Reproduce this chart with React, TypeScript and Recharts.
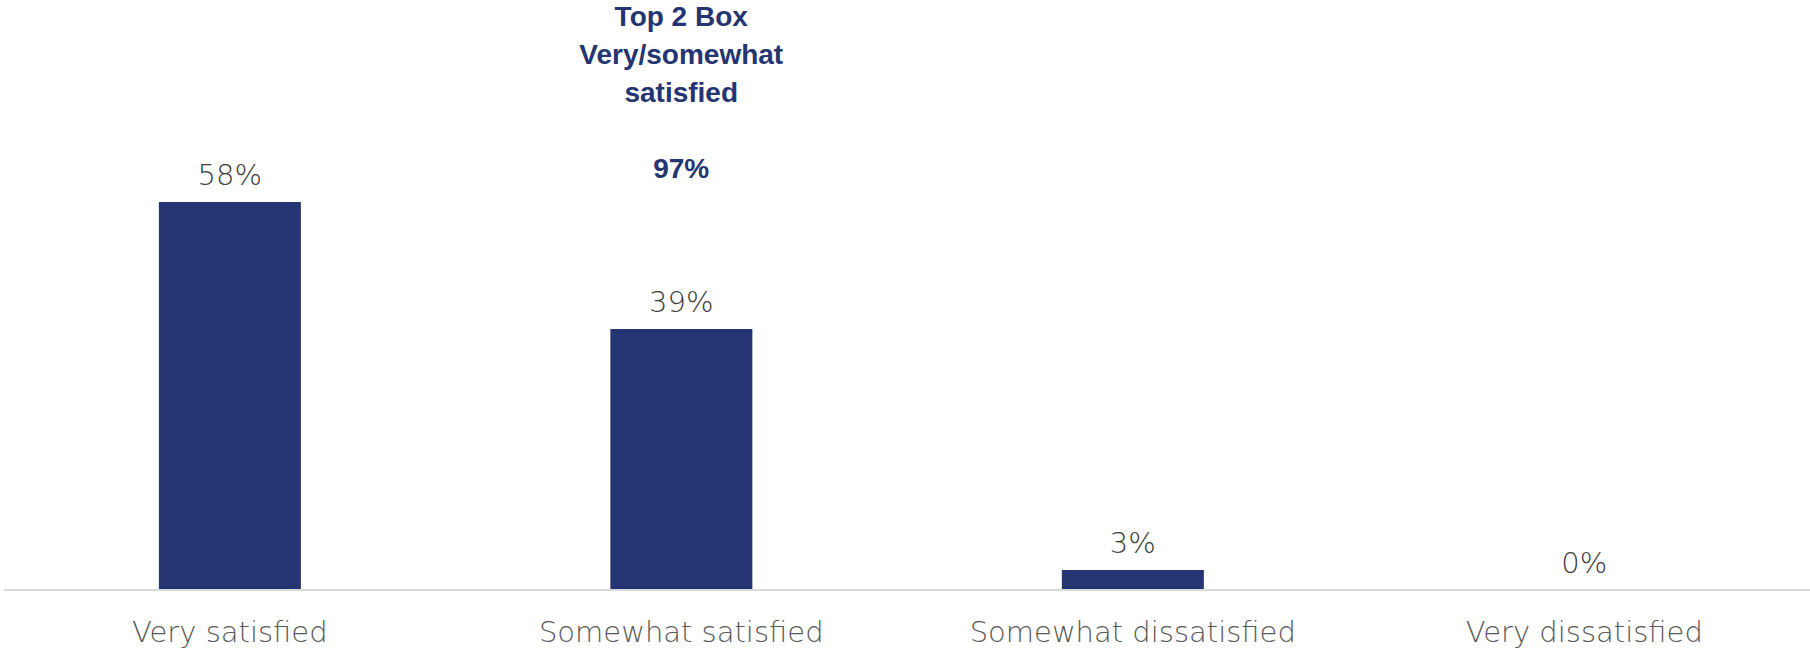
import { ComposedChart, Bar, Line, XAxis, YAxis, LabelList } from 'recharts'

const categories = ['Very satisfied', 'Somewhat satisfied', 'Somewhat dissatisfied', 'Very dissatisfied']
const shares = [58, 39, 3, 0]
const top2Lines = ['Top 2 Box', 'Very/somewhat', 'satisfied']

const data = categories.map((name, i) => ({ name, value: shares[i] }))
const top2Total = shares[0] + shares[1]

const NAVY = '#253571'
const LABEL_FONT = '"DejaVu Sans", sans-serif'

// labels hang off an invisible line so the 0% bar still gets one
const ValueLabel = (props: any) => {
  const { x, y, value, index } = props
  const cx = Number(x)
  return (
    <g>
      <text
        x={cx}
        y={Number(y) - 17}
        textAnchor="middle"
        fill="#404040"
        fontSize={29}
        fontFamily={LABEL_FONT}
        fontWeight={300}
      >
        {`${value}%`}
      </text>
      {/* Top 2 box call-out sits above the second bar */}
      {index === 1 && (
        <g fill={NAVY} fontFamily='"Liberation Sans", Arial, sans-serif' fontWeight="bold" fontSize={28} textAnchor="middle">
          {top2Lines.map((line, i) => (
            <text key={line} x={cx} y={26 + i * 38}>{line}</text>
          ))}
          <text x={cx} y={178}>{`${top2Total}%`}</text>
        </g>
      )}
    </g>
  )
}

const CategoryTick = ({ x, y, payload }: any) => (
  <text
    x={x}
    y={y + 44}
    textAnchor="middle"
    fill="#595959"
    fontSize={29}
    fontFamily={LABEL_FONT}
    fontWeight={300}
  >
    {payload.value}
  </text>
)

export default function App() {
  return (
    <div style={{ position: 'absolute', left: 0, top: 0, width: 1810, height: 649, background: '#fff' }}>
      <ComposedChart
        width={1810}
        height={649}
        data={data}
        margin={{ top: 0, right: 0, left: 4, bottom: 0 }}
        barCategoryGap="34.3%"
      >
        <XAxis
          dataKey="name"
          tickLine={false}
          axisLine={{ stroke: '#d9d9d9', strokeWidth: 2 }}
          tick={<CategoryTick />}
          height={59}
          interval={0}
        />
        <YAxis hide domain={[0, 88.2]} />
        <Bar dataKey="value" fill={NAVY} isAnimationActive={false} />
        <Line
          dataKey="value"
          stroke="none"
          dot={false}
          activeDot={false}
          legendType="none"
          isAnimationActive={false}
        >
          <LabelList dataKey="value" content={<ValueLabel />} />
        </Line>
      </ComposedChart>
    </div>
  )
}
